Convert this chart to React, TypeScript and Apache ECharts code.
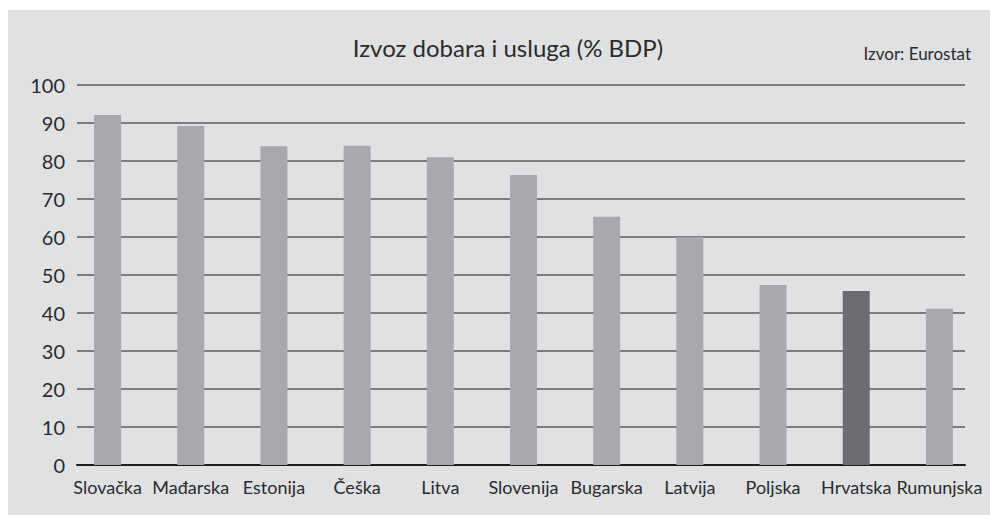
import React, { useEffect, useRef } from "react";
import * as echarts from "echarts";

const categories = ["Slovačka", "Mađarska", "Estonija", "Češka", "Litva", "Slovenija", "Bugarska", "Latvija", "Poljska", "Hrvatska", "Rumunjska"];
const values = [92.1, 89.2, 83.9, 84.0, 81.0, 76.3, 65.3, 60.0, 47.4, 45.8, 41.1];
const highlight = "Hrvatska";
const titleText = "Izvoz dobara i usluga (% BDP)";
const sourceText = "Izvor: Eurostat";

const FONT = "Lato, 'DejaVu Sans', sans-serif";

export default function App() {
  const ref = useRef<HTMLDivElement>(null);
  useEffect(() => {
    document.body.style.margin = "0";
    document.body.style.overflow = "hidden";
    document.body.style.background = "#ffffff";
    const chart = echarts.init(ref.current!, undefined, { renderer: "svg" });
    chart.setOption({
      animation: false,
      backgroundColor: "transparent",
      textStyle: { fontFamily: FONT, color: "#2b2b2b" },
      title: [
        { text: titleText, left: 503, top: 30, textAlign: "center", textStyle: { fontFamily: FONT, fontSize: 24, fontWeight: "normal", color: "#2b2b2b" } },
        { text: sourceText, left: 966, top: 40, textAlign: "right", textStyle: { fontFamily: FONT, fontSize: 17, fontWeight: "normal", color: "#2b2b2b" } },
      ],
      grid: [
        { left: 66, right: 9, top: 85, bottom: 50 },
        { left: 77, right: 25, top: 85, bottom: 50 },
      ],
      xAxis: [
        {
          type: "category", gridIndex: 0, data: categories,
          axisLine: { show: false }, axisTick: { show: false },
          axisLabel: { margin: 13, fontSize: 18, color: "#2b2b2b", fontFamily: FONT, interval: 0 },
        },
        {
          type: "value", gridIndex: 1, min: 0, max: 1,
          axisLine: { show: true, lineStyle: { color: "#1e1e1e", width: 2 } },
          axisTick: { show: false }, axisLabel: { show: false }, splitLine: { show: false },
        },
      ],
      yAxis: [
        { type: "value", gridIndex: 0, min: 0, max: 100, interval: 10, show: false, splitLine: { show: false } },
        {
          type: "value", gridIndex: 1, min: 0, max: 100, interval: 10,
          axisLine: { show: false }, axisTick: { show: false },
          axisLabel: { margin: 12, fontSize: 20, color: "#2b2b2b", fontFamily: FONT },
          splitLine: { show: true, lineStyle: { color: "#5a5b5e", width: 1.5 } },
        },
      ],
      series: [
        {
          type: "bar", xAxisIndex: 0, yAxisIndex: 0, barWidth: 27, z: 3,
          data: values.map((v, i) => ({
            value: v,
            itemStyle: { color: categories[i] === highlight ? "#6b6c70" : "#a8a9ac" },
          })),
        },
      ],
    });
    return () => chart.dispose();
  }, []);
  return (
    <div style={{ position: "fixed", left: 0, top: 0, right: 0, bottom: 0, background: "#ffffff" }}>
      <div style={{ position: "absolute", left: 8, top: 10, right: 0, bottom: 0, background: "#e0e1e3" }} />
      <div ref={ref} style={{ position: "absolute", left: 0, top: 0, width: 990, height: 515 }} />
    </div>
  );
}
